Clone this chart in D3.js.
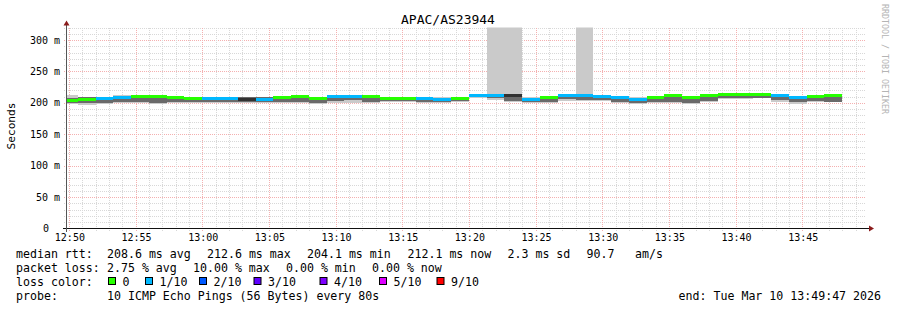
<!DOCTYPE html>
<html lang="en">
<head>
<meta charset="UTF-8">
<title>APAC/AS23944</title>
<script src="https://cdn.jsdelivr.net/npm/d3@7/dist/d3.min.js"></script>
<style>
    body { margin: 0; background: #fff; }
    svg text { font-family: "DejaVu Sans Mono", monospace; white-space: pre; }
</style>
</head>
<body>

<svg width="897" height="310"></svg>

<script>

    // 80 s buckets (start time of each)
    var times = ["12:49:20","12:50:40","12:52:00","12:53:20","12:54:40","12:56:00","12:57:20","12:58:40",
        "13:00:00","13:01:20","13:02:40","13:04:00","13:05:20","13:06:40","13:08:00","13:09:20",
        "13:10:40","13:12:00","13:13:20","13:14:40","13:16:00","13:17:20","13:18:40","13:20:00",
        "13:21:20","13:22:40","13:24:00","13:25:20","13:26:40","13:28:00","13:29:20","13:30:40",
        "13:32:00","13:33:20","13:34:40","13:36:00","13:37:20","13:38:40","13:40:00","13:41:20",
        "13:42:40","13:44:00","13:45:20","13:46:40"];

    // median rtt (ms)
    var median = [204.3,205.4,206.7,207.8,210.5,210.5,208.4,207.0,206.2,206.2,205.0,205.4,
        207.8,210.7,206.2,210.5,210.5,210.5,206.7,206.7,206.7,204.6,206.5,211.3,
        211.0,211.0,205.4,208.1,211.3,211.0,210.5,208.0,205.9,207.9,211.0,207.8,
        211.6,212.6,212.6,212.6,211.0,208.2,209.9,212.4];

    // lost pings out of 10 (null = no median line)
    var loss = [0,0,1,1,0,0,0,0,1,1,null,1,0,0,0,1,1,0,0,0,1,1,0,1,1,null,1,0,1,1,1,1,1,0,0,0,0,0,0,0,1,1,0,0];

    // smoke: min / max ping (ms)
    var smokeLo = [198.5,197,198,199.5,200,197.5,200,200,199.5,200,200,200,200,199.5,198.5,200,
        199.5,200,201,201,200,200,201,207,205,201,199.5,199.5,203,203,203,200,199,200,200,198.5,
        202,206,206,207,201.5,198.5,201,201.5];
    var smokeHi = [213,210,210,213,212,212,211,210,208,208,210,210,209.5,211.5,210,211.5,211.5,
        211.5,210,210,209.5,209,209.5,212.5,400,400,209.5,210,212,400,211.5,210.5,209,209.5,212,
        211,212.5,213.5,213.5,213.5,212,210,211.5,213.5];

    // smoke: inner band (ms)
    var coreLo = [200.5,200,199.5,201,202,199.5,202,202,201.5,202,202,202,201.5,201,200,203.5,
        205,201.5,202.5,202.5,202,201.5,202.5,209,207.5,203.5,201,201,206,205,205,202,200.5,201,
        201,200,203.5,207.5,208,208,204,201.5,203,202];
    var coreHi = [208,209.5,209,210,210,210,208,209.5,207,206.5,209,209,209,210,209,210,210,210,
        208,208,208,208,208,211.5,211.5,211,208,209,210.5,210,210,209,208,208,210,209,210.5,211.5,
        211,212,210.5,209.5,209,211.5];

    var lossSteps = [0, 1, 2, 3, 4, 5, 9];
    var lossLabels = ["0", "1/10", "2/10", "3/10", "4/10", "5/10", "9/10"];
    var lossColors = ["#26ff00", "#00b8ff", "#0059ff", "#5e00ff", "#7e00ff", "#dd00ff", "#ff0000"];

    var yTicks = [0, 50, 100, 150, 200, 250, 300];

    var legendRtt = ["208.6 ms avg", "212.6 ms max", "204.1 ms min", "212.1 ms now", "2.3 ms sd", "90.7", "am/s"];
    var legendLoss = ["2.75 % avg", "10.00 % max", "0.00 % min", "0.00 % now"];

    var stepSec = 80;
    var parse = d3.timeParse("%Y-%m-%d %H:%M:%S");
    var day = "2026-03-10 ";

    var svg = d3.select("svg");
    var plotL = 66, plotR = 866, plotT = 27.5, plotB = 228.5;

    var x = d3.scaleTime()
        .domain([parse(day + "12:49:47"), parse(day + "13:49:47")])
        .range([plotL, plotR]);
    var y = d3.scaleLinear().domain([0, 320]).range([plotB, plotT]);

    var data = times.map(function (t, i) {
        var t0 = parse(day + t);
        return {
            t0: t0, t1: new Date(t0.getTime() + stepSec * 1000),
            med: median[i], loss: loss[i],
            lo: smokeLo[i], hi: smokeHi[i], clo: coreLo[i], chi: coreHi[i]
        };
    });

    svg.append("defs").append("clipPath").attr("id", "plot")
        .append("rect").attr("x", plotL).attr("y", plotT)
        .attr("width", plotR - plotL).attr("height", plotB - plotT);

    // grid
    var grid = svg.append("g").attr("stroke-width", 1).attr("stroke-dasharray", "1,1")
        .attr("shape-rendering", "crispEdges");
    d3.range(10, 321, 10).forEach(function (v) {
        grid.append("line")
            .attr("x1", plotL - 2).attr("x2", plotR)
            .attr("y1", Math.round(y(v)) + 0.5).attr("y2", Math.round(y(v)) + 0.5)
            .attr("stroke", v % 50 === 0 ? "#f4b0b0" : "#d8d8d8");
    });
    x.ticks(d3.timeMinute.every(1)).forEach(function (t) {
        var mj = t.getMinutes() % 5 === 0;
        grid.append("line")
            .attr("x1", Math.round(x(t)) + 0.5).attr("x2", Math.round(x(t)) + 0.5)
            .attr("y1", plotT).attr("y2", plotB + 2)
            .attr("stroke", mj ? "#f4b0b0" : "#d8d8d8");
    });

    // smoke + median
    var plot = svg.append("g").attr("clip-path", "url(#plot)").attr("shape-rendering", "crispEdges");
    plot.selectAll(".outer").data(data).enter().append("rect")
        .attr("x", function (d) { return x(d.t0); })
        .attr("width", function (d) { return x(d.t1) - x(d.t0); })
        .attr("y", function (d) { return y(d.hi); })
        .attr("height", function (d) { return y(d.lo) - y(d.hi); })
        .attr("fill", "#cacaca");
    plot.selectAll(".core").data(data).enter().append("rect")
        .attr("x", function (d) { return x(d.t0); })
        .attr("width", function (d) { return x(d.t1) - x(d.t0); })
        .attr("y", function (d) { return y(d.chi); })
        .attr("height", function (d) { return y(d.clo) - y(d.chi); })
        .attr("fill", "#6a6a6a");

    function lossColor(l) {
        if (l === null) return "#323232";
        var c = lossColors[0];
        lossSteps.forEach(function (s, i) { if (l >= s) c = lossColors[i]; });
        return c;
    }
    plot.selectAll(".med").data(data).enter().append("rect")
        .attr("x", function (d) { return x(d.t0); })
        .attr("width", function (d) { return x(d.t1) - x(d.t0); })
        .attr("y", function (d) { return y(d.med) - 1.5; })
        .attr("height", 3)
        .attr("fill", function (d) { return lossColor(d.loss); });

    // axes
    var ax = svg.append("g").attr("shape-rendering", "crispEdges");
    ax.append("line").attr("x1", plotL - 3).attr("x2", plotR + 4)
        .attr("y1", plotB).attr("y2", plotB).attr("stroke", "#111");
    ax.append("line").attr("x1", plotL + 0.5).attr("x2", plotL + 0.5)
        .attr("y1", plotB + 3).attr("y2", plotT - 5).attr("stroke", "#555");
    svg.append("path").attr("d", "M" + (plotR + 3) + "," + (plotB - 3) + "L" + (plotR + 8) + "," + plotB + "L" + (plotR + 3) + "," + (plotB + 3) + "Z")
        .attr("fill", "#8b1c1c");
    svg.append("path").attr("d", "M" + (plotL - 2.5) + "," + (plotT - 2) + "L" + (plotL + 0.5) + "," + (plotT - 7) + "L" + (plotL + 3.5) + "," + (plotT - 2) + "Z")
        .attr("fill", "#8b1c1c");

    // tick labels
    svg.append("g").selectAll("text").data(x.ticks(d3.timeMinute.every(5))).enter().append("text")
        .attr("x", function (d) { return x(d) + 1; })
        .attr("y", 241)
        .attr("text-anchor", "middle")
        .attr("font-size", "10px")
        .text(d3.timeFormat("%H:%M"));
    svg.append("g").selectAll("text").data(yTicks).enter().append("text")
        .attr("x", function (d) { return d === 0 ? 49 : 60; })
        .attr("y", function (d) { return y(d) + 3.5; })
        .attr("text-anchor", "end")
        .attr("font-size", "10px")
        .text(function (d) { return d === 0 ? "0" : d + " m"; });

    // titles
    svg.append("text").attr("x", 448).attr("y", 24).attr("text-anchor", "middle")
        .attr("font-size", "13px").text("APAC/AS23944");
    svg.append("text").attr("transform", "translate(15,126) rotate(-90)")
        .attr("text-anchor", "middle").attr("font-size", "11.2px").text("Seconds");
    svg.append("text").attr("transform", "translate(882,4) rotate(90)")
        .attr("font-size", "8.3px").attr("fill", "#b4b4b4").text("RRDTOOL / TOBI OETIKER");

    // legend
    var lg = svg.append("g").attr("font-size", "11.6px");
    lg.append("text").attr("x", 16).attr("y", 258).text("median rtt:");
    var rttX = [107, 207, 307, 407.5, 507.5, 586.5, 635];
    legendRtt.forEach(function (s, i) {
        lg.append("text").attr("x", rttX[i]).attr("y", 258).text(s);
    });
    lg.append("text").attr("x", 16).attr("y", 272).text("packet loss:");
    var lossX = [107, 193, 286, 372];
    legendLoss.forEach(function (s, i) {
        lg.append("text").attr("x", lossX[i]).attr("y", 272).text(s);
    });
    lg.append("text").attr("x", 16).attr("y", 286).text("loss color:");
    var boxX = [108, 145, 199, 253.5, 319.5, 379, 436.5];
    lossLabels.forEach(function (s, i) {
        lg.append("rect").attr("x", boxX[i] + 0.5).attr("y", 277.5)
            .attr("width", 7).attr("height", 7)
            .attr("fill", lossColors[i]).attr("stroke", "#000").attr("stroke-width", 1);
        lg.append("text").attr("x", boxX[i] + 14.5).attr("y", 286).text(s);
    });
    lg.append("text").attr("x", 16).attr("y", 300).text("probe:");
    lg.append("text").attr("x", 107).attr("y", 300).text("10 ICMP Echo Pings (56 Bytes) every 80s");
    lg.append("text").attr("x", 881).attr("y", 300).attr("text-anchor", "end")
        .text("end: Tue Mar 10 13:49:47 2026");

</script>
</body>
</html>
